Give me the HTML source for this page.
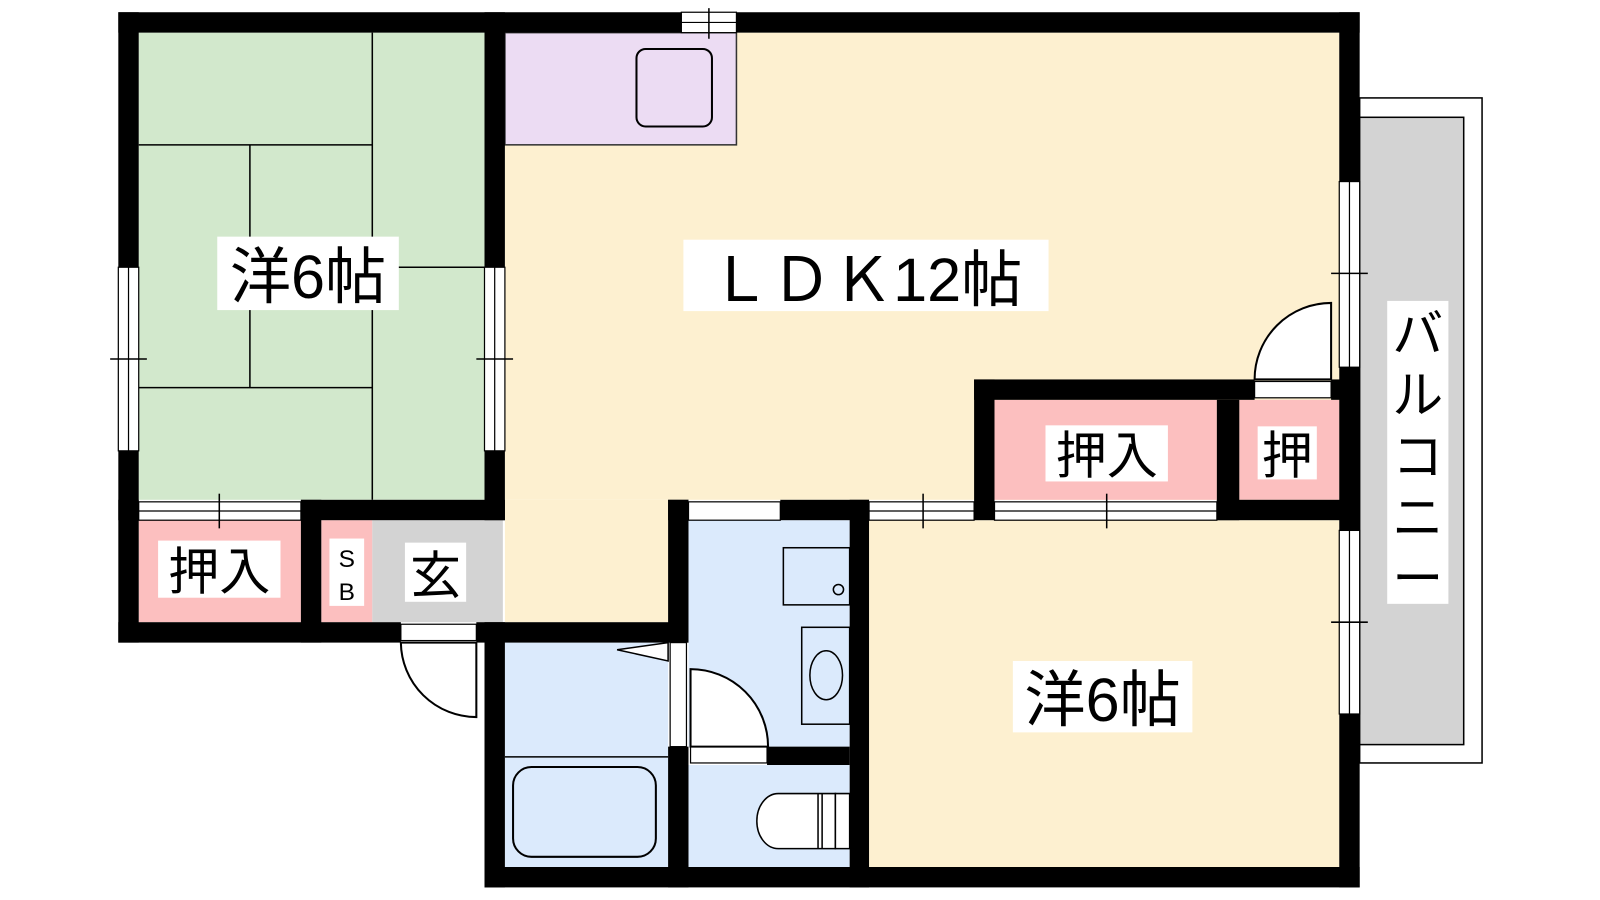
<!DOCTYPE html>
<html><head><meta charset="utf-8"><style>
body{margin:0;background:#fff;}
svg{display:block;}
text{font-family:"Liberation Sans","Noto Sans CJK JP",sans-serif;}
</style></head><body>
<svg width="1600" height="900" viewBox="0 0 1600 900" xmlns="http://www.w3.org/2000/svg">
<g transform="scale(1.02)">
<!-- balcony -->
<rect x="1333" y="96" width="120" height="652" fill="#fff" stroke="#000" stroke-width="1.5"/>
<rect x="1333" y="115" width="102" height="615" fill="#d3d3d3" stroke="#000" stroke-width="1.5"/>
<!-- floors -->
<rect x="136" y="32" width="339" height="458" fill="#d2e8cc"/>
<rect x="495" y="32" width="818" height="458" fill="#fdf0d0"/>
<rect x="495" y="490" width="160" height="120" fill="#fdf0d0"/>
<rect x="495" y="32" width="227" height="110" fill="#ecdcf3" stroke="#333" stroke-width="1.5"/>
<rect x="624" y="48" width="74" height="76" rx="9" fill="none" stroke="#000" stroke-width="2"/>
<rect x="852" y="510" width="461" height="340" fill="#fdf0d0"/>
<rect x="136" y="510" width="159" height="100" fill="#fcbfbf"/>
<rect x="315" y="510" width="50" height="100" fill="#fcbfbf"/>
<rect x="365" y="510" width="128" height="100" fill="#d3d3d3"/>
<rect x="975" y="392" width="218" height="98" fill="#fcbfbf"/>
<rect x="1215" y="392" width="98" height="98" fill="#fcbfbf"/>
<rect x="495" y="630" width="160" height="220" fill="#dbeafc"/>
<rect x="675" y="510" width="158" height="222" fill="#dbeafc"/>
<rect x="675" y="750" width="158" height="100" fill="#dbeafc"/>
<!-- tatami lines -->
<g stroke="#000" stroke-width="1.5">
<line x1="365" y1="32" x2="365" y2="490"/>
<line x1="136" y1="142" x2="365" y2="142"/>
<line x1="245" y1="142" x2="245" y2="380"/>
<line x1="365" y1="262" x2="475" y2="262"/>
<line x1="136" y1="380" x2="365" y2="380"/>
<line x1="495" y1="742" x2="655" y2="742"/>
</g>
<!-- bath fixtures -->
<rect x="503" y="752" width="140" height="88" rx="18" fill="none" stroke="#000" stroke-width="2"/>
<rect x="768" y="537" width="65" height="56" fill="none" stroke="#000" stroke-width="1.5"/>
<circle cx="822" cy="578" r="5" fill="none" stroke="#000" stroke-width="1.5"/>
<rect x="786" y="615" width="47" height="95" fill="none" stroke="#000" stroke-width="1.5"/>
<ellipse cx="810" cy="662" rx="16" ry="24" fill="none" stroke="#000" stroke-width="1.5"/>
<path d="M819 778 h-56 a21 27 0 0 0 0 54 h56 z" fill="#fff" stroke="#000" stroke-width="1.5"/>
<path d="M802 778 v54 M806 778 v54 M819 778 h14 v54 h-14 z" fill="#fff" stroke="#000" stroke-width="1.5"/>
<path d="M605 637 L655 630 L655 648 Z" fill="#fff" stroke="#000" stroke-width="1.5"/>
<!-- walls -->
<g fill="#000">
<rect x="116" y="12" width="552" height="20"/>
<rect x="722" y="12" width="611" height="20"/>
<rect x="116" y="12" width="20" height="250"/>
<rect x="116" y="442" width="20" height="188"/>
<rect x="475" y="12" width="20" height="250"/>
<rect x="475" y="442" width="20" height="68"/>
<rect x="116" y="490" width="20" height="20"/>
<rect x="295" y="490" width="200" height="20"/>
<rect x="295" y="490" width="20" height="140"/>
<rect x="116" y="610" width="277" height="20"/>
<rect x="467" y="610" width="208" height="20"/>
<rect x="475" y="610" width="20" height="260"/>
<rect x="655" y="490" width="20" height="140"/>
<rect x="655" y="732" width="20" height="138"/>
<rect x="655" y="490" width="20" height="20"/>
<rect x="765" y="490" width="87" height="20"/>
<rect x="833" y="490" width="19" height="380"/>
<rect x="752" y="732" width="81" height="18"/>
<rect x="475" y="850" width="858" height="20"/>
<rect x="955" y="372" width="20" height="138"/>
<rect x="955" y="372" width="275" height="20"/>
<rect x="1305" y="372" width="28" height="20"/>
<rect x="1193" y="392" width="22" height="118"/>
<rect x="1193" y="490" width="140" height="20"/>
<rect x="1313" y="12" width="20" height="166"/>
<rect x="1313" y="360" width="20" height="160"/>
<rect x="1313" y="700" width="20" height="170"/>
</g>
<!-- windows -->
<g fill="#fff" stroke="#000" stroke-width="1.2">
<rect x="668" y="12" width="54" height="20"/><line x1="668" y1="22" x2="722" y2="22"/>
<rect x="116" y="262" width="20" height="180"/><line x1="126" y1="262" x2="126" y2="442"/>
<rect x="475" y="262" width="20" height="180"/><line x1="485" y1="262" x2="485" y2="442"/>
<rect x="136" y="492" width="159" height="18"/><line x1="136" y1="501" x2="295" y2="501"/>
<rect x="675" y="492" width="90" height="18"/>
<rect x="852" y="492" width="103" height="18"/><line x1="852" y1="501" x2="955" y2="501"/>
<rect x="975" y="492" width="218" height="18"/><line x1="975" y1="501" x2="1193" y2="501"/>
<rect x="1313" y="178" width="20" height="182"/><line x1="1323" y1="178" x2="1323" y2="360"/>
<rect x="1313" y="520" width="20" height="180"/><line x1="1323" y1="520" x2="1323" y2="700"/>
<rect x="1230" y="374" width="75" height="16"/>
<rect x="393" y="612" width="74" height="16"/>
<rect x="677" y="732" width="75" height="16"/>
<rect x="657" y="630" width="16" height="102"/>
</g>
<g stroke="#000" stroke-width="1.5">
<line x1="695" y1="8" x2="695" y2="38"/><line x1="108" y1="352" x2="144" y2="352"/><line x1="467" y1="352" x2="503" y2="352"/>
<line x1="215" y1="484" x2="215" y2="518"/><line x1="905" y1="484" x2="905" y2="518"/><line x1="1085" y1="484" x2="1085" y2="518"/>
<line x1="1305" y1="268" x2="1341" y2="268"/><line x1="1305" y1="610" x2="1341" y2="610"/>
</g>
<!-- doors -->
<g fill="#fff" stroke="#000" stroke-width="2">
<path d="M1305 372 V297 A75 75 0 0 0 1230 372 Z"/>
<path d="M467 630 V703 A74 74 0 0 1 393 630 Z"/>
<path d="M677 732 V656 A76 76 0 0 1 753 732 Z"/>
</g>
<!-- labels -->
<g font-size="60" text-anchor="middle">
<rect x="213" y="232" width="178" height="72" fill="#fff"/><text x="302" y="292">洋6帖</text>
<rect x="670" y="235" width="358" height="70" fill="#fff"/><text x="849" y="295">ＬＤＫ12帖</text>
<rect x="993" y="648" width="176" height="70" fill="#fff"/><text x="1081" y="707">洋6帖</text>
</g>
<g font-size="50" text-anchor="middle">
<rect x="155" y="530" width="120" height="56" fill="#fff"/><text x="215" y="578">押入</text>
<rect x="397" y="532" width="60" height="58" fill="#fff"/><text x="427" y="582">玄</text>
<rect x="1025" y="417" width="120" height="55" fill="#fff"/><text x="1085" y="464">押入</text>
<rect x="1233" y="418" width="58" height="52" fill="#fff"/><text x="1262" y="464">押</text>
<rect x="1360" y="295" width="60" height="297" fill="#fff"/>
<text x="1390" y="345">バ</text><text x="1390" y="405">ル</text><text x="1390" y="465">コ</text><text x="1390" y="525">ニ</text><text x="1390" y="585">ー</text>
</g>
<rect x="323" y="528" width="34" height="66" fill="#fff"/>
<text x="340" y="556" font-size="24" text-anchor="middle">S</text>
<text x="340" y="588" font-size="24" text-anchor="middle">B</text>
</g>
</svg>
</body></html>
